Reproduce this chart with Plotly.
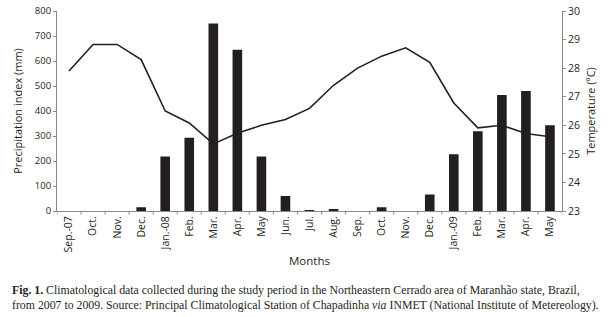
import plotly.graph_objects as go

months = ["Sep.-07", "Oct.", "Nov.", "Dec.", "Jan.-08", "Feb.", "Mar.", "Apr.", "May",
          "Jun.", "Jul.", "Aug.", "Sep.", "Oct.", "Nov.", "Dec.", "Jan.-09", "Feb.",
          "Mar.", "Apr.", "May"]
precipitation = [0, 0, 0, 15, 218, 293, 750, 645, 218, 60, 3, 8, 0, 15, 0, 66, 227, 319,
                 464, 480, 343]
temperature = [27.9, 28.83, 28.83, 28.3, 26.5, 26.08, 25.35, 25.72, 26.0, 26.2, 26.59,
               27.4, 28.0, 28.42, 28.71, 28.2, 26.78, 25.91, 26.0, 25.71, 25.6]
y1_ticks = [0, 100, 200, 300, 400, 500, 600, 700, 800]
y2_ticks = [23, 24, 25, 26, 27, 28, 29, 30]

idx = list(range(len(months)))
axis_col = "#8a8a8a"
sans = "Open Sans, DejaVu Sans, sans-serif"

fig = go.Figure()
fig.add_trace(go.Bar(x=idx, y=precipitation, marker_color="#231f20", marker_line_width=0,
                     width=0.4, name="Precipitation"))
fig.add_trace(go.Scatter(x=idx, y=temperature, yaxis="y2", mode="lines",
                         line=dict(color="#231f20", width=1.6), name="Temperature"))

fig.update_layout(
    width=616, height=317,
    margin=dict(l=57, r=54, t=11, b=106),
    paper_bgcolor="white", plot_bgcolor="white",
    showlegend=False,
    font=dict(family=sans, size=10, color="#231f20"),
    xaxis=dict(
        range=[-0.5, len(months) - 0.5], automargin=False,
        tickmode="array", tickvals=idx, ticktext=months, tickangle=-90,
        showline=True, linecolor=axis_col, linewidth=1,
        ticks="", showgrid=False, zeroline=False,
        tickfont=dict(size=10.5),
    ),
    yaxis=dict(
        range=[0, 800], tickvals=y1_ticks, automargin=False,
        showline=True, linecolor=axis_col, linewidth=1,
        ticks="outside", ticklen=3, tickcolor=axis_col,
        showgrid=False, zeroline=False,
        tickfont=dict(size=9.5),
        title=dict(text="Precipitation index (mm)", font=dict(size=11), standoff=9),
    ),
    yaxis2=dict(
        range=[23, 30], tickvals=y2_ticks, overlaying="y", side="right", automargin=False,
        showline=True, linecolor=axis_col, linewidth=1,
        ticks="outside", ticklen=3, tickcolor=axis_col,
        showgrid=False, zeroline=False,
        tickfont=dict(size=10.5),
        title=dict(text="Temperature (ºC)", font=dict(size=11), standoff=8),
    ),
)

# category boundary tick marks on x-axis
for b in range(len(months) + 1):
    fig.add_shape(type="line", xref="x", yref="paper", x0=b - 0.5, x1=b - 0.5,
                  y0=0, y1=-0.018, line=dict(color=axis_col, width=1))

# x-axis title
fig.add_annotation(text="Months", xref="paper", yref="paper", x=0.5, y=-0.245,
                   xanchor="center", yanchor="middle", showarrow=False,
                   font=dict(family=sans, size=11.5, color="#231f20"))

caption = ("<b>Fig. 1.</b> Climatological data collected during the study period in the Northeastern "
           "Cerrado area of Maranhão state, Brazil,<br>from 2007 to 2009. Source: Principal "
           "Climatological Station of Chapadinha <i>via</i> INMET (National Institute of Metereology).")
fig.add_annotation(text=caption, xref="paper", yref="paper", x=-0.093, y=-0.352,
                   xanchor="left", yanchor="top", align="left", showarrow=False,
                   font=dict(family="Liberation Serif, Times New Roman, serif", size=11.8,
                             color="#231f20"))

fig.write_html("out.html", config={"displayModeBar": False},
               post_script="document.body.style.margin='0';")
